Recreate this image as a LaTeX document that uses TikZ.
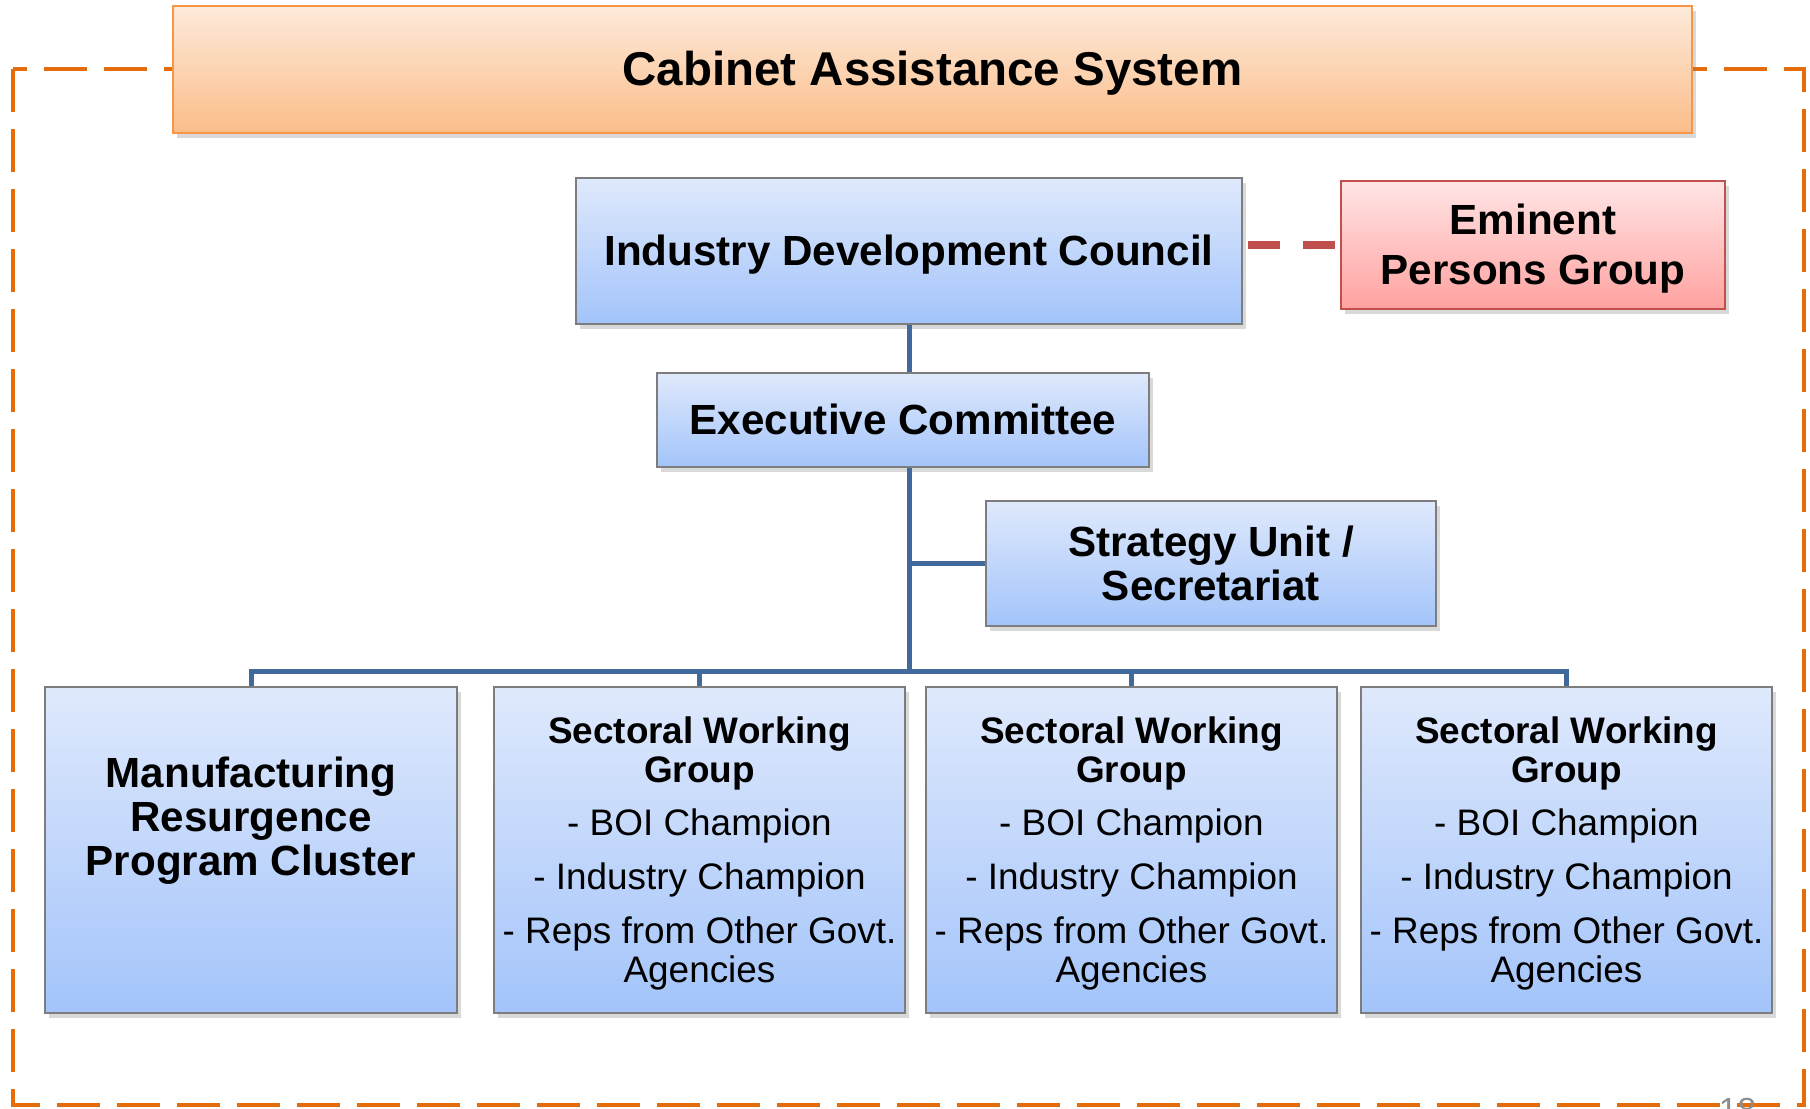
\documentclass[tikz,border=0pt]{standalone}
\usepackage{fontspec}
\setmainfont{Liberation Sans}
\usetikzlibrary{positioning, shadows}
\definecolor{unitTop}{RGB}{223,233,252}
\definecolor{unitBot}{RGB}{163,196,250}
\definecolor{unitRim}{RGB}{125,125,125}
\definecolor{cabTop}{RGB}{253,234,218}
\definecolor{cabBot}{RGB}{251,189,138}
\definecolor{cabRim}{RGB}{247,150,70}
\definecolor{epgTop}{RGB}{255,229,229}
\definecolor{epgBot}{RGB}{255,162,160}
\definecolor{epgRim}{RGB}{192,80,77}
\definecolor{linkBlue}{RGB}{65,105,155}
\definecolor{frameOrange}{RGB}{228,108,10}
\definecolor{pageGray}{RGB}{140,140,140}
\newcommand\ppthead{\vrule width 0pt height .905em depth 0pt\relax}
\newcommand\pptfoot{\vrule width 0pt height 0pt depth .212em\relax}

\begin{document}
\begin{tikzpicture}
	[on grid, font=\fontsize{12}{12.6}\selectfont\bfseries,
	 unit/.style={draw=unitRim, line width=.5pt, top color=unitTop, bottom color=unitBot,
	   align=center, inner sep=0pt,
	   drop shadow={shadow xshift=.04cm, shadow yshift=-.05cm, opacity=.3}},
	 cab/.style={unit, draw=cabRim, line width=.8pt, top color=cabTop, bottom color=cabBot,
	   minimum width=15.19cm, minimum height=1.27cm, font=\fontsize{13.5}{14}\selectfont\bfseries},
	 epg/.style={unit, draw=epgRim, line width=.8pt, top color=epgTop, bottom color=epgBot,
	   minimum width=3.84cm, minimum height=1.28cm, font=\fontsize{12}{14.4}\selectfont\bfseries},
	 swg/.style={unit, minimum width=4.11cm, minimum height=3.26cm, font=\fontsize{10.5}{11.1}\selectfont},
	 link/.style={draw=linkBlue, line width=.05cm},
	 tie/.style={draw=epgRim, line width=.075cm, dash pattern=on .32cm off .23cm, shorten <=.055cm},
	 frame/.style={draw=frameOrange, line width=.045cm, dash pattern=on .43cm off .17cm}]
   \useasboundingbox (0,0) rectangle (18.10,-11.08);
   \draw[frame] (0.13,-0.69) rectangle (18.04,-11.05);
   \node[cab] (u_cab) at (9.325,-0.695) {\ppthead Cabinet Assistance System\pptfoot};
   \node[unit, minimum width=6.66cm, minimum height=1.46cm] (u_idc) at (9.09,-2.51) {\ppthead Industry Development Council\pptfoot};
   \node[epg] (u_epg) [above right=0.06 and 6.24 of u_idc] {\ppthead Eminent\\Persons Group\pptfoot};
   \node[unit, minimum width=4.92cm, minimum height=0.94cm] (u_exe) [below left=1.69 and 0.06 of u_idc] {\ppthead Executive Committee\pptfoot};
   \node[unit, minimum width=4.5cm, minimum height=1.25cm, font=\fontsize{12}{12.5}\selectfont\bfseries] (u_str) [below right=1.435 and 3.08 of u_exe] {\ppthead Strategy Unit /\\Secretariat\pptfoot};
   \node[swg] (u_sw1) at (6.995,-8.5) {\ppthead\textbf{Sectoral Working}\\\textbf{Group}\\[4pt]- BOI Champion\\[4.2pt]- Industry Champion\\[4.2pt]- Reps from Other Govt.\\Agencies\pptfoot};
   \node[unit, minimum width=4.12cm, minimum height=3.26cm] (u_mrp) [left=4.485 of u_sw1] {};
      \node[align=center, inner sep=0pt] (t_mrp) [above=0.33 of u_mrp] {\ppthead Manufacturing\\Resurgence\\Program Cluster\pptfoot};
   \node[swg] (u_sw2) [right=4.32 of u_sw1] {\ppthead\textbf{Sectoral Working}\\\textbf{Group}\\[4pt]- BOI Champion\\[4.2pt]- Industry Champion\\[4.2pt]- Reps from Other Govt.\\Agencies\pptfoot};
   \node[swg] (u_sw3) [right=4.35 of u_sw2] {\ppthead\textbf{Sectoral Working}\\\textbf{Group}\\[4pt]- BOI Champion\\[4.2pt]- Industry Champion\\[4.2pt]- Reps from Other Govt.\\Agencies\pptfoot};
   \node[font=\fontsize{9.5}{10}\selectfont, text=pageGray, anchor=north, inner sep=0pt] (u_pg) at (17.375,-10.97) {18};
   \coordinate (hub) at (u_idc.south |- 0,-6.71);
   \draw[link] (u_idc.south) -- (u_idc.south |- u_exe.north);
   \draw[link] (u_idc.south |- u_exe.south) -- (hub);
   \draw[link] (u_str.west) -- (u_str.west -| hub);
   \foreach \b in {u_mrp,u_sw1,u_sw2,u_sw3}
      \draw[link] (hub) -| (\b.north);
   \draw[tie] (u_idc.east |- u_epg.west) -- (u_epg.west);
\end{tikzpicture}
\end{document}
